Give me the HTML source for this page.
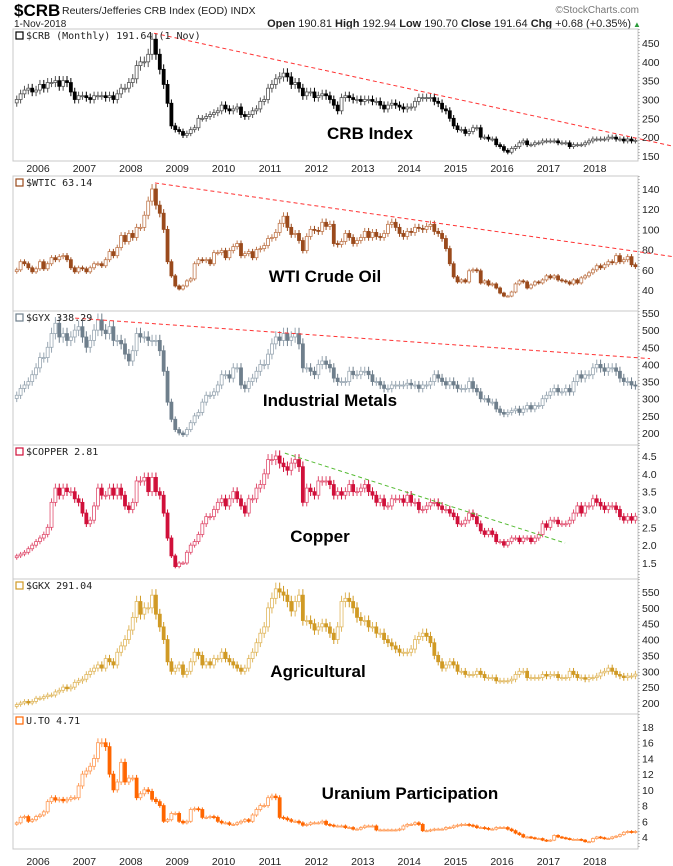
<!DOCTYPE html>
<html><head><meta charset="utf-8">
<style>
html,body{margin:0;padding:0;background:#fff;}
svg{display:block;font-family:"Liberation Sans",sans-serif;}
</style></head>
<body>
<svg id="chart" width="673" height="866" viewBox="0 0 673 866">
  <text x="14" y="16" font-size="17" font-weight="bold">$CRB</text>
  <text x="62" y="14" font-size="10.5" fill="#222">Reuters/Jefferies CRB Index (EOD) INDX</text>
  <text x="14" y="27" font-size="10" fill="#222">1-Nov-2018</text>
  <text x="639" y="13" font-size="10" fill="#777" text-anchor="end">©StockCharts.com</text>
  <text x="631" y="27" font-size="11" fill="#222" text-anchor="end"><tspan font-weight="bold">Open</tspan> 190.81 <tspan font-weight="bold">High</tspan> 192.94 <tspan font-weight="bold">Low</tspan> 190.70 <tspan font-weight="bold">Close</tspan> 191.64 <tspan font-weight="bold">Chg</tspan> +0.68 (+0.35%)</text>
  <text x="633" y="27" font-size="8" fill="#2a9a3a">▲</text>
</svg>
<script>
// ---- data (monthly closes, Jul 2005 .. Nov 2018) ----
const startYear = 2005.5;
const yearLabels = ["2006","2007","2008","2009","2010","2011","2012","2013","2014","2015","2016","2017","2018"];
const crbClose = [300,315,325,330,320,325,
340,330,345,345,350,335,350,345,320,300,310,310,
305,300,310,310,310,305,310,300,315,330,330,345,
355,390,400,400,420,460,420,380,340,290,230,220,
215,205,210,220,225,250,250,255,260,265,270,285,
275,270,275,280,260,255,260,270,275,295,300,330,
340,355,360,370,360,340,345,330,310,320,320,305,
310,315,310,300,285,270,305,310,305,300,300,295,
300,300,295,295,285,275,285,290,285,280,275,280,
280,295,305,305,305,305,295,290,275,270,250,230,
220,220,210,215,225,225,200,200,195,195,180,175,
165,160,170,175,185,190,180,180,185,185,190,190,
190,190,185,185,185,175,180,180,180,185,190,195,
195,195,195,200,200,195,195,190,195,190,191.64];
const wticClose = [60,68,66,62,58,61,
68,61,66,72,70,73,74,70,62,58,62,61,
58,62,66,66,64,70,78,74,82,94,88,96,
92,102,102,114,128,140,124,116,100,68,54,44,
41,44,49,51,66,70,69,70,66,77,77,79,
72,79,83,86,74,76,78,72,80,81,84,91,
92,97,106,113,102,95,96,89,79,93,100,99,
98,107,103,105,86,85,88,96,92,86,89,92,
98,92,97,93,92,96,105,107,102,96,93,98,
97,102,101,100,103,105,98,96,91,81,66,53,
48,50,48,59,60,59,47,49,45,46,42,37,
34,34,38,46,49,48,42,45,48,47,50,54,
52,54,50,49,48,46,50,47,52,54,57,60,
64,62,65,68,67,74,68,70,73,65,63.14];
const gyxClose = [310,330,340,350,370,390,
420,420,450,490,520,480,490,470,480,500,510,480,
450,470,500,530,500,490,510,470,470,460,430,410,
440,490,480,480,470,470,470,440,380,290,240,210,
200,195,210,230,250,260,290,310,310,320,340,370,
370,360,390,390,340,330,350,360,380,400,400,430,
460,480,470,490,470,480,490,460,390,390,380,370,
400,410,400,390,360,350,350,350,380,370,370,380,
380,370,350,350,340,330,330,340,340,340,340,345,
340,340,330,340,340,350,370,360,350,340,350,340,
330,330,330,350,330,320,300,300,290,290,270,260,
255,260,265,270,260,270,280,270,280,280,300,310,
320,330,320,320,330,320,350,370,360,370,370,390,
400,390,380,390,390,380,360,350,350,340,338.29];
const copperClose = [1.7,1.75,1.8,1.9,2.0,2.1,
2.2,2.3,2.5,3.2,3.6,3.4,3.6,3.5,3.5,3.3,3.2,2.9,
2.6,2.7,3.1,3.6,3.4,3.4,3.6,3.4,3.6,3.4,3.1,3.0,
3.2,3.8,3.8,3.9,3.5,3.9,3.5,3.4,2.9,2.2,1.7,1.4,
1.5,1.5,1.8,2.0,2.1,2.3,2.6,2.8,2.8,3.0,3.2,3.3,
3.1,3.3,3.5,3.3,3.1,2.9,3.3,3.3,3.6,3.7,4.0,4.4,
4.4,4.5,4.3,4.2,4.1,4.3,4.4,4.2,3.2,3.6,3.5,3.4,
3.8,3.8,3.8,3.7,3.4,3.5,3.4,3.5,3.7,3.5,3.5,3.6,
3.7,3.5,3.4,3.2,3.3,3.1,3.1,3.3,3.3,3.3,3.2,3.4,
3.2,3.2,3.0,3.0,3.1,3.2,3.2,3.1,3.0,3.0,2.9,2.8,
2.6,2.6,2.7,2.9,2.8,2.6,2.4,2.3,2.4,2.3,2.1,2.1,
2.0,2.1,2.2,2.2,2.1,2.2,2.2,2.1,2.2,2.3,2.6,2.5,
2.7,2.7,2.6,2.6,2.6,2.7,2.9,3.1,2.9,3.1,3.1,3.3,
3.2,3.1,3.0,3.1,3.1,3.0,2.8,2.7,2.8,2.7,2.81];
const gkxClose = [195,200,205,200,205,215,
215,220,225,225,235,240,250,245,250,265,270,275,
290,300,310,320,310,340,330,320,360,380,400,430,
470,520,480,500,500,540,480,440,400,330,300,310,
320,290,300,330,360,350,320,330,320,340,340,360,
340,330,320,310,300,310,340,360,390,420,440,500,
530,560,550,540,520,490,520,540,460,460,450,430,
440,450,440,420,400,440,520,530,520,500,470,460,
460,440,440,420,420,400,390,380,370,360,360,360,
370,400,410,420,410,390,350,330,310,320,330,320,
300,300,290,290,290,300,290,280,280,280,270,270,
270,270,275,290,300,300,280,280,280,280,290,285,
290,290,280,280,280,300,290,280,280,275,280,280,
285,295,300,310,300,290,285,280,285,285,291.04];
const utoClose = [5.8,6.5,6.6,6.0,6.2,6.6,
6.8,7.2,8.5,9.0,8.7,8.8,8.6,8.8,9.0,9.0,10.5,12.0,
12.4,13.0,14.0,16.0,16.0,15.5,12.0,10.0,11.0,13.5,11.0,11.5,
11.5,9.0,9.5,10.0,9.8,8.8,8.5,8.0,6.0,6.2,7.0,7.0,
6.0,5.8,6.0,7.5,7.6,7.5,6.5,6.5,6.6,6.5,6.0,5.8,
5.8,5.6,5.6,5.8,6.0,6.2,6.0,6.8,7.5,8.0,8.0,9.0,
9.2,9.0,6.5,6.4,6.2,6.0,6.0,5.8,5.5,5.6,5.8,5.8,
5.8,6.0,5.6,5.5,5.4,5.4,5.4,5.2,5.2,5.0,5.0,5.2,
5.4,5.4,5.4,4.9,4.9,4.9,4.9,4.9,4.9,5.0,5.4,5.6,
5.6,5.8,5.6,4.8,4.8,4.9,5.0,5.0,5.0,5.2,5.2,5.4,
5.5,5.6,5.6,5.5,5.4,5.2,5.2,5.1,5.0,5.0,5.2,5.2,
5.2,5.0,4.8,4.5,4.3,4.0,4.0,3.9,3.8,3.8,3.6,3.5,
3.6,4.2,4.0,3.9,3.8,3.7,3.7,3.7,3.6,3.4,3.4,3.8,
4.0,3.9,3.8,3.8,4.0,4.1,4.3,4.6,4.7,4.6,4.71];
const crbTicks = [150,200,250,300,350,400,450];
const wticTicks = [40,60,80,100,120,140];
const gyxTicks = [200,250,300,350,400,450,500,550];
const copperTicks = ["1.5","2.0","2.5","3.0","3.5","4.0","4.5"];
const gkxTicks = [200,250,300,350,400,450,500,550];
const utoTicks = [4,6,8,10,12,14,16,18];
// trend lines: [time, value] endpoints
const crbTrend = [[2008.5,476],[2019.69,176]];
const wticTrend = [[2008.52,146],[2019.69,73]];
const gyxTrend = [[2006.8,535],[2019.19,417]];
const copperTrend = [[2011.32,4.58],[2017.36,2.06]];

const NS = "http://www.w3.org/2000/svg";
const svg = document.getElementById('chart');
function el(tag, attrs, parent){
  const e = document.createElementNS(NS, tag);
  for (const k in attrs) e.setAttribute(k, attrs[k]);
  (parent||svg).appendChild(e);
  return e;
}
const X0 = 13, X1 = 638;
function xOf(t){ return 38 + (t - 2006) * 46.4; }

const panels = [
  {key:'crb', data:crbClose, ticks:crbTicks, top:29, bot:161, v0:450, y0:43, v1:150, y1:156, color:'#000', light:'#555', legend:'$CRB (Monthly) 191.64 (1 Nov)', label:'CRB Index', lx:370, ly:139, trend:crbTrend, tcolor:'#ff3333', xaxis:168},
  {key:'wtic', data:wticClose, ticks:wticTicks, top:176, bot:311, v0:140, y0:189, v1:40, y1:290, color:'#9a4a1c', light:'#c07a50', legend:'$WTIC 63.14', label:'WTI Crude Oil', lx:325, ly:282, trend:wticTrend, tcolor:'#ff3333'},
  {key:'gyx', data:gyxClose, ticks:gyxTicks, top:311, bot:445, v0:550, y0:313, v1:200, y1:433, color:'#6f7f8c', light:'#9aa8b3', legend:'$GYX 338.29', label:'Industrial Metals', lx:330, ly:406, trend:gyxTrend, tcolor:'#ff3333'},
  {key:'copper', data:copperClose, ticks:copperTicks, top:445, bot:579, v0:4.5, y0:456, v1:1.5, y1:563, color:'#d0103a', light:'#e05070', legend:'$COPPER 2.81', label:'Copper', lx:320, ly:542, trend:copperTrend, tcolor:'#55bb33'},
  {key:'gkx', data:gkxClose, ticks:gkxTicks, top:579, bot:714, v0:550, y0:592, v1:200, y1:703, color:'#d09a25', light:'#e0b860', legend:'$GKX 291.04', label:'Agricultural', lx:318, ly:677, trend:null},
  {key:'uto', data:utoClose, ticks:utoTicks, top:714, bot:849, v0:18, y0:727, v1:4, y1:837, color:'#ff6600', light:'#ff9a55', legend:'U.TO 4.71', label:'Uranium Participation', lx:410, ly:799, trend:null, xaxis:861}
];

panels.forEach(p => {
  const yOf = v => p.y0 + (p.v0 - v) * (p.y1 - p.y0) / (p.v0 - p.v1);
  const g = el('g', {});
  
  
  const frame = el('rect', {x:X0, y:p.top, width:X1-X0, height:p.bot-p.top, fill:'#fff', stroke:'#c8c8c8', 'stroke-width':1}, g);
  
  
  const ax = el('line', {x1:X1+1, y1:p.top, x2:X1+1, y2:p.bot, stroke:'#999', 'stroke-dasharray':'1,2'}, g);
  
  
  p.ticks.forEach(tv => {
    const y = yOf(parseFloat(tv));
    const t = el('text', {x:X1+4, y:y+4, 'font-size':10.5, fill:'#222'}, g);
    t.textContent = tv;
    
    
  });
  const cg = el('g', {}, g);
  
  
  for (let i = 0; i < p.data.length; i++) {
    const c = p.data[i];
    const o = i === 0 ? c * 0.97 : p.data[i-1];
    const hi = Math.max(o, c) * 1.035, lo = Math.min(o, c) * 0.965;
    const xc = xOf(startYear + i / 12 + 1/24);
    const up = c >= o;
    const col = up ? p.light : p.color;
    const w = el('line', {x1:xc, y1:yOf(hi), x2:xc, y2:yOf(lo), stroke:col, 'stroke-width':1}, cg);
    
    
    const yt = yOf(Math.max(o, c)), yb = yOf(Math.min(o, c));
    const b = el('rect', {x:xc-1.5, y:yt, width:3, height:Math.max(1, yb-yt), fill: up ? '#fff' : p.color, stroke:col, 'stroke-width':0.8}, cg);
    
    
  }
  if (p.trend) {
    const tl = el('line', {x1:xOf(p.trend[0][0]), y1:yOf(p.trend[0][1]), x2:xOf(p.trend[1][0]), y2:yOf(p.trend[1][1]), stroke:p.tcolor, 'stroke-width':1, 'stroke-dasharray':'4,3'}, g);
    
    
  }
  const lg = el('text', {x:26, y:p.top+10, 'font-size':10, fill:'#222', 'font-family':'"DejaVu Sans Mono","Liberation Mono",monospace'}, g);
  lg.textContent = p.legend;
  
  
  const ic = el('rect', {x:16, y:p.top+3, width:7, height:7, fill:'none', stroke:p.color, 'stroke-width':1.2}, g);
  
  
  const lb = el('text', {x:p.lx, y:p.ly, 'font-size':17, 'font-weight':'bold', 'text-anchor':'middle', fill:'#000'}, g);
  lb.textContent = p.label;
  
  
  if (p.xaxis) {
    yearLabels.forEach(yl => {
      const t = el('text', {x:xOf(parseInt(yl)), y:p.xaxis+4, 'font-size':10.5, fill:'#222', 'text-anchor':'middle'}, g);
      t.textContent = yl;
      
      
    });
  }
});
</script>
</body></html>
